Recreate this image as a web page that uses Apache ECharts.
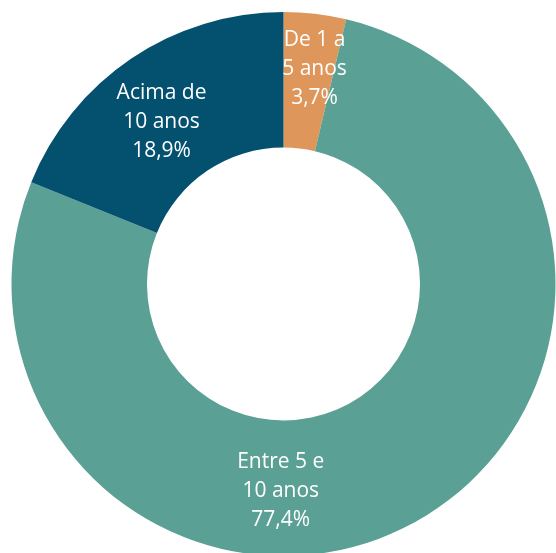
<!DOCTYPE html>
<html>
<head>
<meta charset="utf-8">
<script src="https://cdn.jsdelivr.net/npm/echarts@6/dist/echarts.min.js"></script>
<style>
html,body{margin:0;padding:0;background:#fff;}
#chart{width:556px;height:553px;}
</style>
</head>
<body>
<div id="chart"></div>
<script>
const categories = ['De 1 a\n5 anos', 'Entre 5 e\n10 anos', 'Acima de\n10 anos'];
const values = [3.7, 77.4, 18.9];
const valueLabels = ['3,7%', '77,4%', '18,9%'];
const colors = ['#DF965B', '#5BA094', '#03506F'];
const labelOffsets = [[7, -9], [-98, 23], [-6, 10]];

const chart = echarts.init(document.getElementById('chart'));
chart.setOption({
  animation: false,
  series: [{
    type: 'pie',
    center: [283.5, 284],
    radius: [136.5, 272],
    startAngle: 90,
    clockwise: true,
    avoidLabelOverlap: false,
    itemStyle: { borderWidth: 0 },
    label: {
      show: true,
      position: 'inside',
      color: '#ffffff',
      fontFamily: 'Open Sans',
      fontSize: 21,
      lineHeight: 29,
      align: 'center',
      formatter: p => p.name + '\n' + valueLabels[p.dataIndex]
    },
    labelLine: { show: false },
    emphasis: { disabled: true },
    data: categories.map((c, i) => ({
      name: c,
      value: values[i],
      itemStyle: { color: colors[i] },
      label: { offset: labelOffsets[i] }
    }))
  }]
});
</script>
</body>
</html>
